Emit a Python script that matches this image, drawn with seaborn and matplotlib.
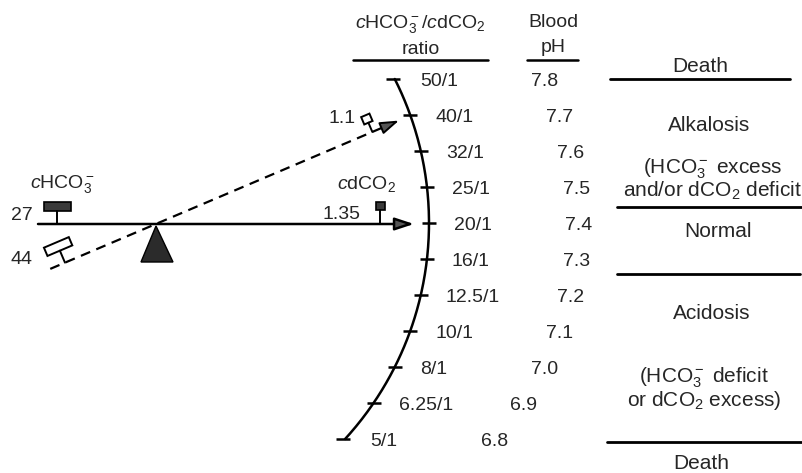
import numpy as np
import pandas as pd
import matplotlib
matplotlib.use("Agg")
import matplotlib.pyplot as plt
from matplotlib.patches import Polygon, Rectangle
import seaborn as sns

# ---------------- data ----------------
ratio_labels = ["50/1", "40/1", "32/1", "25/1", "20/1", "16/1", "12.5/1",
                "10/1", "8/1", "6.25/1", "5/1"]
ph_values = [7.8, 7.7, 7.6, 7.5, 7.4, 7.3, 7.2, 7.1, 7.0, 6.9, 6.8]
hco3_values = ["27", "44"]          # level / tilted
dco2_values = ["1.35", "1.1"]       # level / tilted
state_texts = ["Death", "Alkalosis",
               "(HCO$_3^-$ excess\nand/or dCO$_2$ deficit",
               "Normal", "Acidosis",
               "(HCO$_3^-$ deficit\nor dCO$_2$ excess)", "Death"]

# ---------------- layout (pixel space) ----------------
state_x = [700, 709, 713, 718, 712, 704, 701]
state_y = [66, 125, 179, 231, 313, 389, 463]
state_lines = [(79, 610, 790), (207, 617, 803), (274, 617, 800), (442, 607, 803)]

sns.set_theme(style="white")
plt.rcParams["font.family"] = ["Liberation Sans", "DejaVu Sans"]
plt.rcParams["mathtext.fontset"] = "custom"
plt.rcParams["mathtext.rm"] = "Liberation Sans"
plt.rcParams["mathtext.it"] = "Liberation Sans:italic"
plt.rcParams["mathtext.bf"] = "Liberation Sans:bold"
plt.rcParams["mathtext.default"] = "regular"

fig = plt.figure(figsize=(8.03, 4.73), dpi=100)
ax = fig.add_axes([0, 0, 1, 1])
ax.set_xlim(0, 803)
ax.set_ylim(473, 0)
ax.axis("off")

FS = 14
LW = 1.8

# ---------- scale: y from pH ----------
Y0, PX_PER_PH = 79, 360
def y_of_ph(p):
    return Y0 + (7.8 - p) * PX_PER_PH

CX, CY, R = 109, 223, 320
def x_on_arc(y):
    return CX + np.sqrt(R ** 2 - (y - CY) ** 2)

ys = np.linspace(y_of_ph(ph_values[0]), y_of_ph(ph_values[-1]), 200)
arc = pd.DataFrame({"x": x_on_arc(ys), "y": ys})
sns.lineplot(data=arc, x="x", y="y", sort=False, estimator=None,
             color="black", lw=LW, ax=ax)

df = pd.DataFrame({"ratio": ratio_labels, "ph": ph_values})
df["y"] = df["ph"].map(y_of_ph)
df["x"] = df["y"].map(x_on_arc)
for i, r in df.iterrows():
    if i == 0 or i == len(df) - 1:
        x0, x1 = r.x - 9, r.x + 5
    else:
        x0, x1 = r.x - 7, r.x + 7
    ax.plot([x0, x1], [r.y, r.y], color="black", lw=LW, solid_capstyle="butt")
    ax.text(r.x + 25, r.y + 7, r.ratio, fontsize=FS, ha="left", va="baseline")
    ax.text(r.x + 136, r.y + 7, f"{r.ph:.1f}", fontsize=FS, ha="left", va="baseline")

# ---------- headers ----------
ax.text(420, 28, r"$\mathit{c}$HCO$_3^-$/$\mathit{c}$dCO$_2$", fontsize=FS,
        ha="center", va="baseline")
ax.text(421, 54, "ratio", fontsize=FS, ha="center", va="baseline")
ax.plot([353, 488], [60, 60], color="black", lw=LW)
ax.text(553, 27, "Blood", fontsize=FS, ha="center", va="baseline")
ax.text(553, 52, "pH", fontsize=FS, ha="center", va="baseline")
ax.plot([527, 578], [60, 60], color="black", lw=LW)

# ---------- right column ----------
for t, x, y in zip(state_texts, state_x, state_y):
    ax.text(x, y, t, fontsize=15, ha="center", va="center",
            linespacing=0.95, multialignment="center")
for y, x0, x1 in state_lines:
    ax.plot([x0, x1], [y, y], color="black", lw=2.0)

# ---------- level lever ----------
FX, FY = 157, 224
ax.annotate("", xy=(414, FY), xytext=(38, FY),
            arrowprops=dict(arrowstyle="-|>,head_length=1.15,head_width=0.38",
                            lw=LW, ec="black", fc="#555555", shrinkA=0,
                            shrinkB=0, mutation_scale=10))
# fulcrum
ax.add_patch(Polygon([(FX - 1, 226), (141, 262), (173, 262)], closed=True,
                     fc="#2b2b2b", ec="black", lw=1))
# left weight (cHCO3)
ax.add_patch(Rectangle((44, 202), 27, 9, fc="#3a3a3a", ec="black", lw=1.2))
ax.plot([57, 57], [211, FY], color="black", lw=1.4)
ax.text(33, 220, hco3_values[0], fontsize=FS, ha="right", va="baseline")
ax.text(62, 188, r"$\mathit{c}$HCO$_3^-$", fontsize=FS, ha="center", va="baseline")
# right weight (cdCO2)
ax.add_patch(Rectangle((376, 202), 9, 8, fc="#3a3a3a", ec="black", lw=1.2))
ax.plot([380, 380], [210, FY], color="black", lw=1.4)
ax.text(342, 219, dco2_values[0], fontsize=FS, ha="center", va="baseline")
ax.text(366, 189, r"$\mathit{c}$dCO$_2$", fontsize=FS, ha="center", va="baseline")

# ---------- tilted lever ----------
TFX, TFY = 157, 223.5
theta = np.arctan2(269 - 121, 398 - 50)
u = np.array([np.cos(theta), -np.sin(theta)])
n = np.array([-np.sin(theta), -np.cos(theta)])
F = np.array([TFX, TFY])
def along(s):
    return F + s * u

p0, p1 = along(-116), along(250)
ax.plot([p0[0], p1[0]], [p0[1], p1[1]], color="black", lw=1.6,
        dashes=[4.5, 3.0])
tip = along(263)
ax.annotate("", xy=tip, xytext=along(246),
            arrowprops=dict(arrowstyle="-|>,head_length=1.15,head_width=0.38",
                            lw=1.4, ec="black", fc="#555555", shrinkA=0,
                            shrinkB=0, mutation_scale=10))

def tilted_weight(s, w, h, stem):
    P = along(s)
    top = P + stem * n
    ax.plot([P[0], top[0]], [P[1], top[1]], color="black", lw=1.4)
    C = P + (stem + h / 2) * n
    corners = [C - w / 2 * u - h / 2 * n, C + w / 2 * u - h / 2 * n,
               C + w / 2 * u + h / 2 * n, C - w / 2 * u + h / 2 * n]
    ax.add_patch(Polygon(corners, closed=True, fc="white", ec="black", lw=1.4))

tilted_weight(-100, 27, 9, 13)
tilted_weight(234, 9, 8, 10)
ax.text(33, 264, hco3_values[1], fontsize=FS, ha="right", va="baseline")
ax.text(342, 123, dco2_values[1], fontsize=FS, ha="center", va="baseline")

fig.savefig("out.png", dpi=100)
